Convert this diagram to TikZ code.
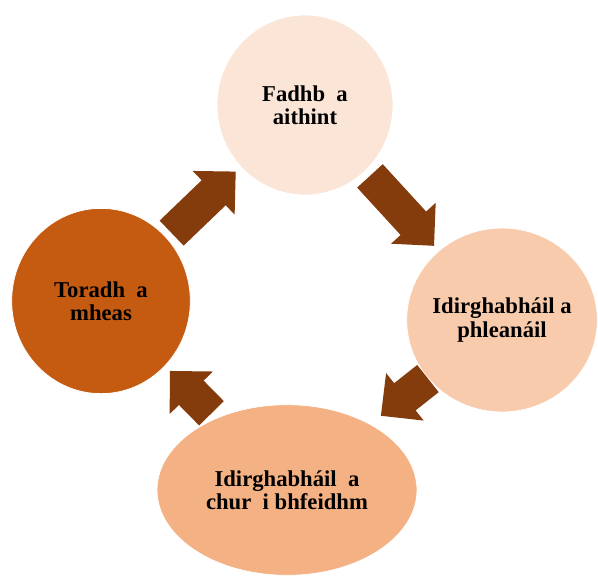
\documentclass[tikz,border=0pt]{standalone}
\usepackage{fontspec}
\setmainfont{Liberation Serif}
\usepackage{tikz}
\usetikzlibrary{shapes.geometric,arrows.meta}
\definecolor{cycpale}{HTML}{FBE5D6}
\definecolor{cyclight}{HTML}{F8CBAD}
\definecolor{cycmid}{HTML}{F4B183}
\definecolor{cycdark}{HTML}{C55A11}
\definecolor{cycarrow}{HTML}{843C0C}

\begin{document}
\begin{tikzpicture}[x=0.75pt,y=-0.75pt,
  stage/.style={ellipse,draw=white,line width=0.6pt,align=center,inner sep=-5pt,
    font=\fontsize{17}{17.5}\selectfont\bfseries},
  bigarrow/.style={draw=cycarrow,line width=26pt,
    -{Triangle[width=44pt,length=23pt]},shorten <=5pt,shorten >=5pt}]
  \path[use as bounding box,fill=white] (0,0) rectangle (598,576);
  % the four stages
  \node[stage,fill=cycpale,minimum width=132pt,minimum height=135pt] (fadhb) at (305,105) {Fadhb~ a\\aithint};
  \node[stage,fill=cyclight,minimum width=143pt,minimum height=138pt] (pleanail) at (502,320) {Idirghabháil a\\phleanáil};
  \node[stage,fill=cycmid,minimum width=195pt,minimum height=128pt] (feidhm) at (287,490) {Idirghabháil~ a\\chur~ i bhfeidhm};
  \node[stage,fill=cycdark,minimum width=134pt,minimum height=139pt] (toradh) at (101,301) {Toradh~ a\\mheas};
  % block arrows round the cycle
  \draw[bigarrow] (toradh) -- (fadhb);
  \draw[bigarrow] (fadhb) -- (pleanail);
  \draw[bigarrow,shorten <=0pt,shorten >=10pt] (pleanail) -- (feidhm);
  \draw[bigarrow] (feidhm) -- (toradh);
\end{tikzpicture}
\end{document}
